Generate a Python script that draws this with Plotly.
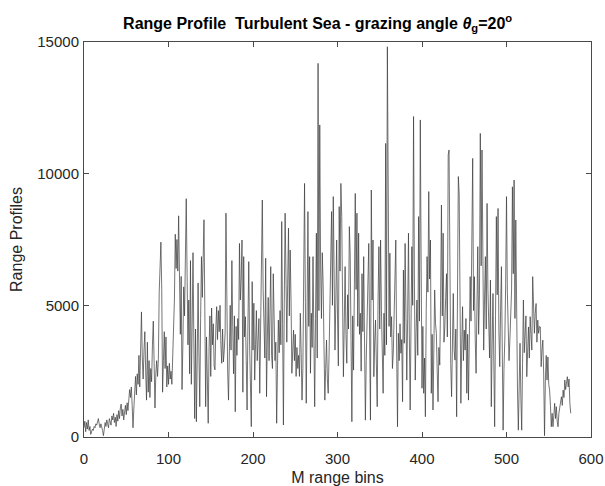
import plotly.graph_objects as go

# range profile amplitude per range bin
profile = [
    350, 600, 200, 550, 300, 650, 250, 400, 100, 200, 300, 250, 400, 350, 500, 450, 600, 700, 500, 350,
    500, 400, 250, 50, 300, 550, 400, 650, 500, 350, 700, 600, 450, 800, 650, 900, 550, 750, 400, 850,
    600, 1000, 700, 1100, 1250, 800, 1050, 650, 950, 1200, 850, 1300, 1000, 1450, 1800, 1500, 1900, 1200, 350, 1100,
    1700, 2300, 1600, 2400, 2000, 3100, 1900, 3800, 4750, 3000, 2200, 3300, 4000, 2500, 1400, 3600, 1700, 2900, 1500, 2600,
    2100, 3500, 4400, 2800, 1100, 2400, 2900, 2300, 2950, 5500, 6800, 7400, 5600, 1700, 2900, 4000, 2600, 3800, 1900, 2700,
    2000, 2800, 2200, 2500, 2000, 2900, 4300, 5200, 7700, 6400, 7500, 6300, 8400, 5000, 3900, 6100, 1800, 3500, 5700, 4600,
    7500, 9050, 6200, 3500, 5200, 2400, 6700, 2000, 4200, 7000, 3600, 700, 4100, 580, 3000, 5850, 3200, 1150, 4500, 6850,
    5300, 6900, 8250, 4800, 1150, 3800, 2600, 520, 3400, 4600, 2300, 4900, 3500, 4300, 2700, 2550, 4100, 4950, 3700, 4800,
    4000, 5000, 3500, 2800, 4100, 2850, 3300, 3950, 8500, 4700, 2500, 1400, 3600, 5000, 3300, 6700, 4200, 2400, 4600, 960,
    4200, 3100, 4500, 3700, 7350, 5200, 6000, 7480, 1700, 6850, 3800, 4570, 2900, 1025, 4300, 6660, 3500, 2000, 390, 5900,
    3300, 5080, 2160, 3500, 4800, 2900, 3700, 4500, 1660, 4100, 7600, 9000, 5600, 4000, 3000, 6790, 1530, 3800, 5300, 2900,
    4200, 6470, 3100, 2600, 6200, 4500, 2900, 3600, 520, 2700, 4440, 3200, 4800, 3500, 8180, 4300, 455, 5100, 8500, 6200,
    3600, 5800, 7930, 4600, 7100, 5200, 2420, 3300, 4060, 2900, 3900, 2300, 3400, 2600, 3100, 2300, 4700, 3200, 1400, 2600,
    8240, 9630, 5100, 1280, 4600, 8560, 4200, 6850, 2420, 4700, 3400, 6850, 3900, 1150, 4500, 7740, 3000, 14190, 4800, 11850,
    6500, 4500, 7000, 5800, 3500, 1400, 2600, 3680, 2200, 1660, 3100, 4700, 6600, 8560, 5000, 9130, 6200, 3300, 5100, 7480,
    4600, 2700, 8750, 6300, 9630, 8370, 5200, 2290, 4300, 6470, 3900, 2800, 5400, 4100, 7990, 6980, 3700, 580, 4600, 2540,
    5800, 9250, 5600, 8500, 4200, 7740, 3900, 4700, 2500, 6200, 4000, 6850, 3600, 640, 2900, 4440, 5600, 7350, 3800, 640,
    9380, 5200, 7480, 2290, 3600, 4440, 2800, 1150, 5200, 7230, 4100, 7480, 4800, 3300, 1660, 4700, 3100, 11150, 3500, 14820,
    8050, 4200, 6980, 3800, 4570, 2600, 3180, 5100, 6200, 7480, 3300, 390, 3940, 2900, 4300, 3180, 3700, 1340, 6340, 3560,
    7350, 4800, 2160, 4500, 7740, 3900, 1025, 4300, 7230, 5000, 12170, 6000, 2160, 4000, 5200, 3100, 8370, 4400, 12040, 6500,
    1850, 4200, 1660, 3000, 770, 4800, 6850, 5500, 9320, 6000, 7480, 1660, 3900, 1025, 3600, 5580, 4300, 3940, 2500, 1340,
    3400, 2730, 5200, 8810, 4600, 7740, 3600, 4180, 5300, 6200, 3800, 10710, 10900, 4800, 2790, 1530, 3700, 5450, 3300, 2920,
    4100, 770, 5400, 9890, 9250, 3800, 1280, 3500, 4950, 2900, 4060, 3300, 4500, 1660, 3900, 1400, 3600, 6090, 4400, 7990,
    10580, 4800, 6090, 3700, 2420, 4900, 7230, 3900, 5400, 11530, 6500, 10900, 4570, 3300, 5200, 6850, 4100, 8870, 5600, 4060,
    3000, 5960, 1150, 3500, 5450, 2800, 390, 4600, 8370, 5400, 8680, 4000, 2670, 4800, 6470, 3300, 260, 2600, 3680, 5800,
    9130, 5500, 3940, 2900, 3680, 4800, 5580, 9500, 6200, 9760, 4500, 8240, 3400, 1780, 260, 2500, 3560, 1500, 260, 2800,
    5200, 3200, 3940, 4600, 2290, 3500, 4180, 3000, 4570, 3900, 3300, 6090, 4400, 3940, 4700, 5070, 3600, 4440, 3940, 4200,
    4180, 2670, 3300, 3680, 2400, 50, 2160, 3100, 2160, 3040, 2000, 1780, 1200, 390, 900, 390, 800, 1280, 700, 1150,
    600, 390, 900, 1150, 1400, 1530, 1200, 1780, 1500, 2160, 1800, 2000, 2290, 1900, 2200, 1280, 900,
]
bins = list(range(len(profile)))

x_ticks = [0, 100, 200, 300, 400, 500, 600]
y_ticks = [0, 5000, 10000, 15000]

fig = go.Figure()
fig.add_trace(go.Scatter(x=bins, y=profile, mode="lines",
                         line=dict(color="#3a3a3a", width=0.7), showlegend=False))

axis_style = dict(showline=True, linecolor="#4a4a4a", linewidth=1, mirror="ticks",
                  ticks="inside", ticklen=5, tickcolor="#4a4a4a", showgrid=False,
                  zeroline=False, automargin=False,
                  tickfont=dict(size=15, color="#262626"))

fig.update_layout(
    width=605, height=486,
    margin=dict(l=84, r=14, t=42, b=49),
    paper_bgcolor="white", plot_bgcolor="white",
    font=dict(family="Liberation Sans, Arial", color="#262626"),
    title=dict(text="<b>Range Profile\u00a0\u00a0Turbulent Sea - grazing angle <i>θ</i><sub>g</sub>=20<sup>o</sup></b>",
               x=0.525, xanchor="center", y=0.952, yanchor="middle",
               font=dict(size=16, color="black"), automargin=False),
    xaxis=dict(range=[0, 600], tickvals=x_ticks, ticktext=[str(v) for v in x_ticks],
               ticklabelstandoff=8,
               title=dict(text="M range bins", font=dict(size=16), standoff=6), **axis_style),
    yaxis=dict(range=[0, 15000], tickvals=y_ticks, ticktext=[str(v) for v in y_ticks],
               ticklabelstandoff=1,
               title=dict(text="Range Profiles", font=dict(size=16), standoff=10), **axis_style),
)

# drop the default page margin so the figure sits at the window's corner
fig.write_html("out.html", config={"displayModeBar": False},
               post_script="document.body.style.margin = '0';")
